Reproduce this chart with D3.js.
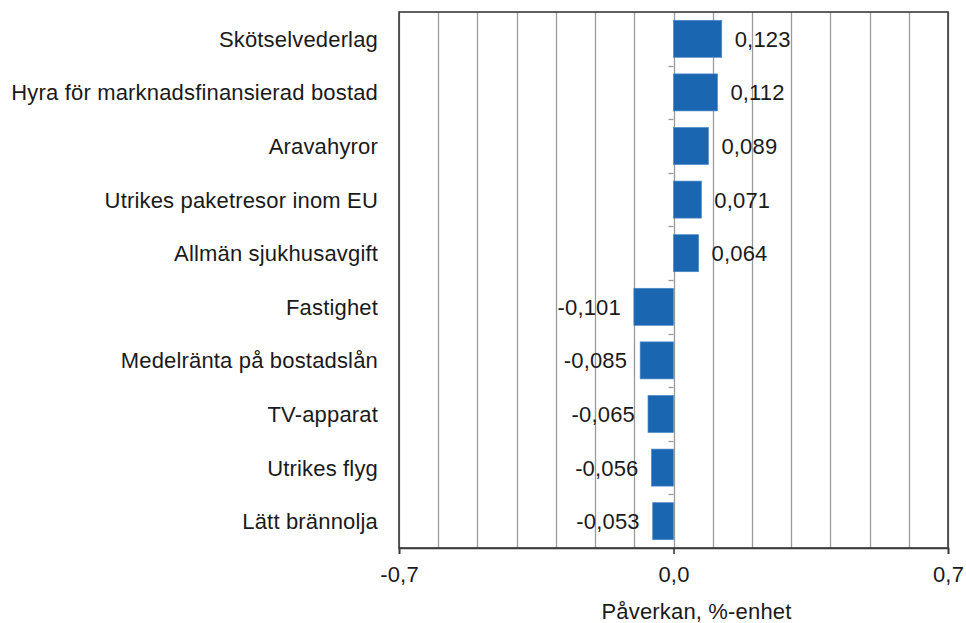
<!DOCTYPE html>
<html>
<head>
<meta charset="utf-8">
<script src="https://cdn.jsdelivr.net/npm/d3@7"></script>
<style>
  body { margin:0; background:#fff; }
  text { font-family: "Liberation Sans", Arial, sans-serif; fill:#1a1a1a; letter-spacing:0.17px; }
</style>
</head>
<body>
<div id="chart"></div>
<script>
// =====================================================================
// data
var categories = ["Skötselvederlag", "Hyra för marknadsfinansierad bostad", "Aravahyror",
                  "Utrikes paketresor inom EU", "Allmän sjukhusavgift", "Fastighet",
                  "Medelränta på bostadslån", "TV-apparat", "Utrikes flyg", "Lätt brännolja"];
var values = [0.123, 0.112, 0.089, 0.071, 0.064, -0.101, -0.085, -0.065, -0.056, -0.053];
var tickValues = [-0.7, 0.0, 0.7];
var gridValues = d3.range(-7, 8).map(function(i){ return i / 10; });
var axisTitle = "Påverkan, %-enhet";

// =====================================================================
var size = { width:966, height:623 };
var plot = { left:399, right:948, top:12, bottom:548 };
var fontSize = 22;
var comma = function(s){ return s.replace(".", ",").replace("\u2212", "-"); };

var svg = d3.select("#chart").append("svg")
    .attr("width", size.width).attr("height", size.height);

var x = d3.scaleLinear().domain([-0.7, 0.7]).range([plot.left, plot.right]);
var y = d3.scaleBand().domain(categories).range([plot.top, plot.bottom])
    .paddingInner(0.31).paddingOuter(0.155);

// gridlines
svg.append("g").selectAll("line")
    .data(gridValues).enter().append("line")
    .attr("x1", function(d){ return Math.round(x(d)) + 0.5; })
    .attr("x2", function(d){ return Math.round(x(d)) + 0.5; })
    .attr("y1", plot.top).attr("y2", plot.bottom)
    .attr("stroke", "#9a9a9a").attr("stroke-width", 1.3);

// bars
svg.append("g").selectAll("rect")
    .data(values).enter().append("rect")
    .attr("x", function(d){ return x(Math.min(0, d)); })
    .attr("y", function(d, i){ return y(categories[i]); })
    .attr("width", function(d){ return Math.abs(x(d) - x(0)); })
    .attr("height", y.bandwidth())
    .attr("fill", "#1b66b1")
    .attr("stroke", "#4a86c6").attr("stroke-width", 0.7);

// category ticks at zero line (band boundaries)
var step = y.step();
svg.append("g").selectAll("line")
    .data(d3.range(1, categories.length)).enter().append("line")
    .attr("x1", x(0) - 5).attr("x2", x(0))
    .attr("y1", function(i){ return Math.round(plot.top + i * step) + 0.5; })
    .attr("y2", function(i){ return Math.round(plot.top + i * step) + 0.5; })
    .attr("stroke", "#9a9a9a").attr("stroke-width", 1.3);

// border
svg.append("rect")
    .attr("x", plot.left).attr("y", plot.top)
    .attr("width", plot.right - plot.left).attr("height", plot.bottom - plot.top)
    .attr("fill", "none").attr("stroke", "#3a3a3a").attr("stroke-width", 1.6);

// x axis
var xAxis = d3.axisBottom(x).tickValues(tickValues).tickSize(6).tickPadding(12)
    .tickFormat(function(d){ return comma(d3.format(".1f")(d)); });
var gx = svg.append("g").attr("transform", "translate(0," + plot.bottom + ")").call(xAxis);
gx.select(".domain").attr("stroke", "#3a3a3a").attr("stroke-width", 1.6);
gx.selectAll(".tick line").attr("stroke", "#3a3a3a").attr("stroke-width", 1.6);
gx.selectAll(".tick text").attr("font-size", fontSize)
    .style("font-family", "'Liberation Sans', Arial, sans-serif").attr("fill", "#1a1a1a");

// axis title
svg.append("text")
    .attr("x", x(0) + 23).attr("y", 619)
    .attr("text-anchor", "middle").attr("font-size", fontSize)
    .text(axisTitle);

// category labels
svg.append("g").selectAll("text")
    .data(categories).enter().append("text")
    .attr("x", plot.left - 21)
    .attr("y", function(d){ return y(d) + y.bandwidth() / 2; })
    .attr("dy", "0.36em")
    .attr("text-anchor", "end").attr("font-size", fontSize)
    .text(function(d){ return d; });

// value labels
svg.append("g").selectAll("text")
    .data(values).enter().append("text")
    .attr("x", function(d){ return d >= 0 ? x(d) + 13 : x(d) - 13; })
    .attr("y", function(d, i){ return y(categories[i]) + y.bandwidth() / 2; })
    .attr("dy", "0.36em")
    .attr("text-anchor", function(d){ return d >= 0 ? "start" : "end"; })
    .attr("font-size", fontSize)
    .text(function(d){ return comma(d3.format(".3f")(d)); });
</script>
</body>
</html>
